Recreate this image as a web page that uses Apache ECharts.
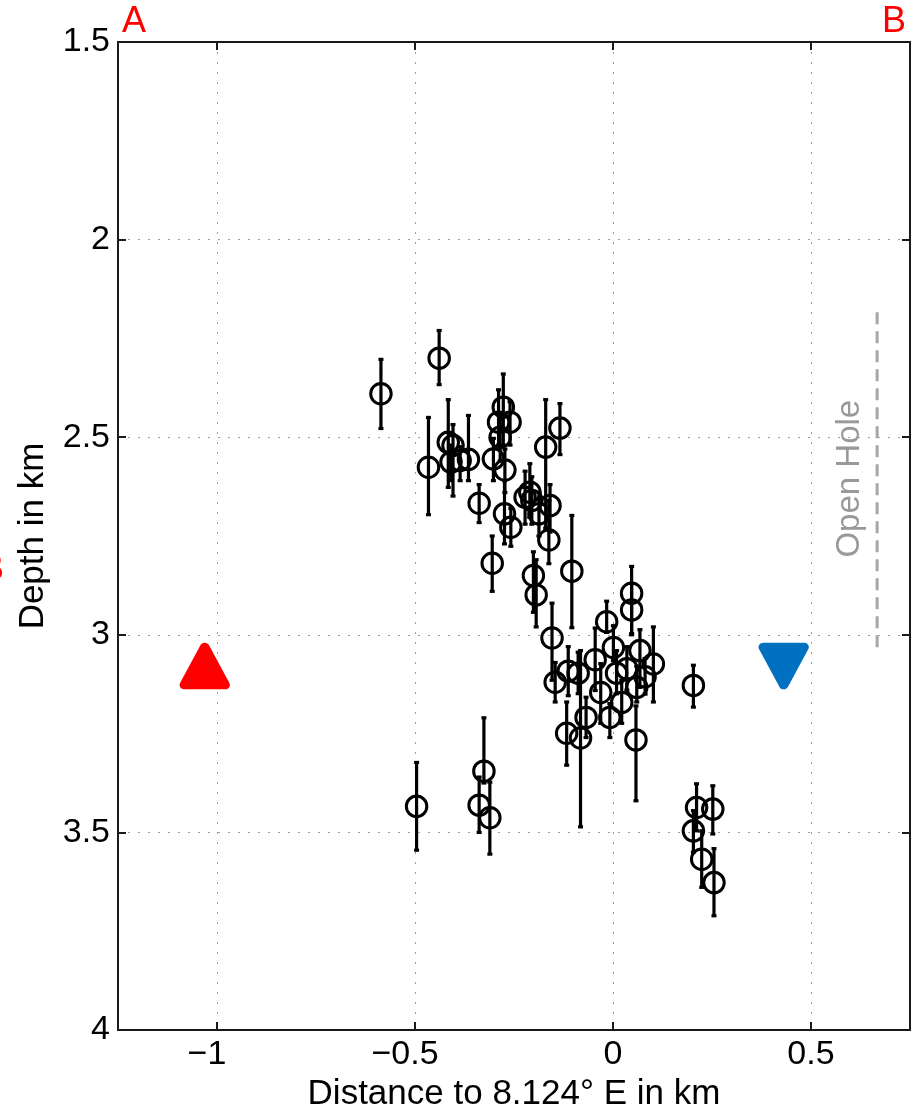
<!DOCTYPE html>
<html>
<head>
<meta charset="utf-8">
<title>Depth section A–B</title>
<script src="https://cdn.jsdelivr.net/npm/echarts@6/dist/echarts.min.js"></script>
<style>
  html, body { margin: 0; padding: 0; background: #fff; }
  #chart { width: 917px; height: 1109px; }
</style>
</head>
<body>
<div id="chart"></div>
<script>
// Event positions along the A–B profile (km east of 8.124° E) and hypocentre depth (km)
const eventDistKm = [
  -0.586, -0.439, -0.466, -0.416, -0.404, -0.409, -0.386, -0.365, -0.338, -0.302,
  -0.277, -0.289, -0.260, -0.285, -0.273, -0.274, -0.258, -0.170, -0.134, -0.222,
  -0.210, -0.205, -0.187, -0.159, -0.162, -0.305, -0.201, -0.194, -0.104, -0.154,
  -0.146, -0.113, -0.088, -0.045, -0.016, 0.001, 0.047, 0.047, 0.068, 0.102,
  0.009, 0.035, 0.081, 0.060, -0.031, 0.022, -0.008, -0.068, -0.117, -0.082,
  0.058, 0.203, -0.496, -0.326, -0.338, -0.311, 0.211, 0.252, 0.203, 0.224,
  0.255
];
const eventDepthKm = [
  2.390, 2.300, 2.576, 2.513, 2.521, 2.563, 2.559, 2.556, 2.667, 2.555,
  2.424, 2.462, 2.462, 2.500, 2.583, 2.694, 2.728, 2.525, 2.477, 2.652,
  2.639, 2.660, 2.694, 2.673, 2.760, 2.819, 2.850, 2.899, 2.839, 3.008,
  3.120, 3.092, 3.097, 3.063, 2.967, 3.032, 2.895, 2.937, 3.040, 3.074,
  3.097, 3.086, 3.106, 3.133, 3.146, 3.171, 3.209, 3.209, 3.249, 3.261,
  3.266, 3.128, 3.434, 3.345, 3.431, 3.463, 3.437, 3.441, 3.496, 3.568,
  3.627
];
// Depth uncertainty: shallow and deep ends of each error bar (km)
const depthErrTop = [
  2.303, 2.230, 2.450, 2.405, 2.468, 2.520, 2.524, 2.445, 2.620, 2.503,
  2.340, 2.380, 2.410, 2.440, 2.530, 2.610, 2.680, 2.405, 2.415, 2.586,
  2.567, 2.600, 2.640, 2.620, 2.660, 2.750, 2.790, 2.810, 2.698, 2.920,
  3.070, 3.030, 3.044, 2.983, 2.915, 2.977, 2.827, 2.870, 2.987, 2.980,
  3.040, 3.030, 3.060, 3.080, 3.073, 3.115, 3.174, 3.158, 3.170, 3.040,
  3.180, 3.077, 3.323, 3.210, 3.360, 3.373, 3.377, 3.382, 3.445, 3.496,
  3.541
];
const depthErrBottom = [
  2.478, 2.367, 2.696, 2.627, 2.649, 2.610, 2.610, 2.610, 2.716, 2.610,
  2.520, 2.520, 2.520, 2.560, 2.640, 2.770, 2.776, 2.730, 2.544, 2.720,
  2.703, 2.720, 2.750, 2.740, 2.820, 2.890, 2.943, 2.980, 2.982, 3.115,
  3.170, 3.154, 3.149, 3.141, 2.994, 3.065, 2.997, 3.000, 3.133, 3.170,
  3.149, 3.140, 3.150, 3.170, 3.224, 3.224, 3.260, 3.260, 3.330, 3.486,
  3.420, 3.183, 3.545, 3.375, 3.500, 3.555, 3.496, 3.504, 3.550, 3.639,
  3.711
];

// Wells: injection (red, pointing up) and production (blue, pointing down)
const wellInjection = [-1.031, 3.079];
const wellProduction = [0.431, 3.079];

// Open-hole section of the well
const openHoleDistKm = 0.667;
const openHoleDepthKm = [2.184, 3.035];
const openHoleLabelPos = [0.598, 2.605];

// Axes
const xRange = [-1.25, 0.75];
const yRange = [1.5, 4];
const yStep = 0.5;

const FONT = '"Liberation Sans", Arial, Helvetica, sans-serif';
const AXIS_COLOR = '#1a1a1a';
const fmtMinus = v => String(v).replace('-', '\u2212');
// negative x labels sit slightly left of their tick
const fmtX = v => v < 0 ? '{neg|' + fmtMinus(v) + '}' : fmtMinus(v);

const points = eventDistKm.map((x, i) => [x, eventDepthKm[i]]);
const errBars = eventDistKm.map((x, i) => [x, depthErrTop[i], depthErrBottom[i]]);

const chart = echarts.init(document.getElementById('chart'), null, { renderer: 'canvas' });

const baseX = {
  type: 'value', min: xRange[0], max: xRange[1], splitNumber: 4
};
const baseY = {
  type: 'value', min: yRange[0], max: yRange[1], interval: yStep, inverse: true
};
const lineStyle = { color: AXIS_COLOR, width: 2 };
const tickStyle = { inside: true, length: 8, lineStyle: { color: AXIS_COLOR, width: 2 } };
const gridLine = { show: true, lineStyle: { color: '#a0a0a0', width: 1, type: [2, 8] } };

chart.setOption({
  animation: false,
  backgroundColor: '#fff',
  grid: { left: 118, right: 7, top: 42, bottom: 79, containLabel: false, outerBoundsMode: 'none' },
  xAxis: [
    Object.assign({}, baseX, {
      position: 'bottom',
      name: 'Distance to 8.124\u00b0 E in km',
      nameLocation: 'middle',
      nameGap: 42,
      nameTextStyle: { fontFamily: FONT, fontSize: 35, color: '#000' },
      axisLine: { show: true, onZero: false, lineStyle },
      axisTick: tickStyle,
      axisLabel: {
        fontFamily: FONT, fontSize: 34, color: '#000', margin: 8,
        showMinLabel: false, showMaxLabel: false, formatter: fmtX,
        rich: { neg: { fontFamily: FONT, fontSize: 34, color: '#000', padding: [0, 20, 0, 0] } }
      },
      splitLine: gridLine
    }),
    Object.assign({}, baseX, {
      position: 'top',
      axisLine: { show: true, onZero: false, lineStyle },
      axisTick: tickStyle,
      axisLabel: { show: false },
      splitLine: { show: false }
    })
  ],
  yAxis: [
    Object.assign({}, baseY, {
      position: 'left',
      name: 'Depth in km',
      nameLocation: 'middle',
      nameGap: 67,
      nameRotate: 90,
      nameTextStyle: { fontFamily: FONT, fontSize: 35, color: '#000' },
      axisLine: { show: true, onZero: false, lineStyle },
      axisTick: tickStyle,
      axisLabel: { fontFamily: FONT, fontSize: 34, color: '#000', margin: 8, formatter: fmtMinus },
      splitLine: gridLine
    }),
    Object.assign({}, baseY, {
      position: 'right',
      axisLine: { show: true, onZero: false, lineStyle },
      axisTick: tickStyle,
      axisLabel: { show: false },
      splitLine: { show: false }
    })
  ],
  graphic: [
    { type: 'text', left: 122, top: 4, style: { text: 'A', fill: '#ff0000', font: '36px ' + FONT } },
    { type: 'text', right: 11, top: 4, style: { text: 'B', fill: '#ff0000', font: '36px ' + FONT } },
    { type: 'text', x: 4, y: 570, style: { text: 'B', fill: '#ff0000', font: '36px ' + FONT, align: 'right', verticalAlign: 'middle' } }
  ],
  series: [
    {
      // open-hole interval
      type: 'line',
      data: openHoleDepthKm.map(d => [openHoleDistKm, d]),
      symbol: 'none',
      lineStyle: { color: '#a6a6a6', width: 3, type: [12, 7] },
      silent: true, z: 2
    },
    {
      type: 'scatter',
      data: [openHoleLabelPos],
      symbolSize: 0,
      label: {
        show: true, formatter: 'Open Hole', rotate: 90, position: 'inside',
        fontFamily: FONT, fontSize: 33, color: '#808080'
      },
      silent: true, z: 2
    },
    {
      // vertical depth error bars
      type: 'custom',
      data: errBars,
      encode: { x: 0, y: [1, 2] },
      renderItem: function (params, api) {
        const x = api.value(0);
        const top = api.coord([x, api.value(1)]);
        const bot = api.coord([x, api.value(2)]);
        const cap = 2.5;
        const style = { stroke: '#000', lineWidth: 3.2 };
        return {
          type: 'group',
          children: [
            { type: 'line', shape: { x1: top[0], y1: top[1], x2: bot[0], y2: bot[1] }, style },
            { type: 'line', shape: { x1: top[0] - cap, y1: top[1], x2: top[0] + cap, y2: top[1] }, style },
            { type: 'line', shape: { x1: bot[0] - cap, y1: bot[1], x2: bot[0] + cap, y2: bot[1] }, style }
          ]
        };
      },
      z: 3
    },
    {
      type: 'scatter',
      data: points,
      symbol: 'circle',
      symbolSize: 20.5,
      itemStyle: { color: 'rgba(0,0,0,0)', borderColor: '#000', borderWidth: 3, opacity: 1 },
      z: 4
    },
    {
      type: 'scatter',
      data: [wellInjection],
      symbol: 'triangle',
      symbolSize: [41, 38],
      itemStyle: { color: '#ff0000', borderColor: '#ff0000', borderWidth: 9, borderJoin: 'round', opacity: 1 },
      z: 5
    },
    {
      type: 'scatter',
      data: [wellProduction],
      symbol: 'triangle',
      symbolRotate: 180,
      symbolSize: [41, 38],
      itemStyle: { color: '#0070c0', borderColor: '#0070c0', borderWidth: 9, borderJoin: 'round', opacity: 1 },
      z: 5
    }
  ]
});
</script>
</body>
</html>
